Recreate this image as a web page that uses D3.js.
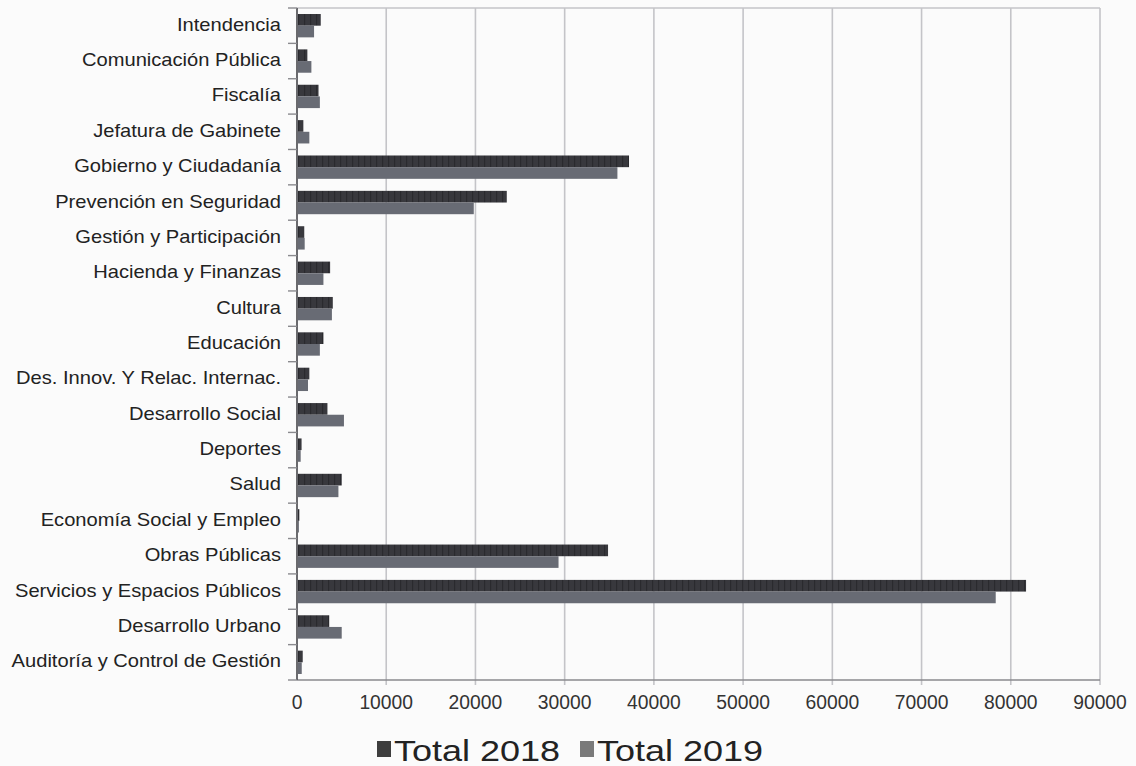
<!DOCTYPE html>
<html>
<head>
<meta charset="utf-8">
<script src="https://cdn.jsdelivr.net/npm/d3@7"></script>
<style>
  html, body { margin: 0; padding: 0; background: #fbfbfb; }
  svg { display: block; }
  text { font-family: "Liberation Sans", Arial, sans-serif; fill: #1c1c1c; }
</style>
</head>
<body>
<svg id="chart" width="1136" height="766"></svg>
<script>
const categories = [
  "Intendencia",
  "Comunicación Pública",
  "Fiscalía",
  "Jefatura de Gabinete",
  "Gobierno y Ciudadanía",
  "Prevención en Seguridad",
  "Gestión y Participación",
  "Hacienda y Finanzas",
  "Cultura",
  "Educación",
  "Des. Innov. Y Relac. Internac.",
  "Desarrollo Social",
  "Deportes",
  "Salud",
  "Economía Social y Empleo",
  "Obras Públicas",
  "Servicios y Espacios Públicos",
  "Desarrollo Urbano",
  "Auditoría y Control de Gestión"
];
const total2018 = [2550, 1050, 2300, 600, 37100, 23400, 700, 3600, 3900, 2850, 1270, 3300, 400, 4900, 150, 34750, 81600, 3500, 530];
const total2019 = [1800, 1500, 2450, 1270, 35800, 19700, 750, 2850, 3800, 2450, 1120, 5150, 300, 4530, 100, 29200, 78200, 4900, 420];
const seriesNames = ["Total 2018", "Total 2019"];
const xTicks = [0, 10000, 20000, 30000, 40000, 50000, 60000, 70000, 80000, 90000];

const svg = d3.select("#chart");
const pLeft = 297, pRight = 1100, pTop = 8, pBottom = 680;

const x = d3.scaleLinear().domain([0, 90000]).range([pLeft, pRight]);
const y = d3.scaleBand().domain(categories).range([pTop, pBottom]).paddingInner(0.34).paddingOuter(0.17);
const sub = d3.scaleBand().domain(seriesNames).range([0, y.bandwidth()]);
const colors = { "Total 2018": "#38383d", "Total 2019": "#686b74" };
const legendColors = { "Total 2018": "#3e3e3e", "Total 2019": "#7a7a7a" };

// stripe pattern for scanned look of 2018 bars
const defs = svg.append("defs");
const pat = defs.append("pattern").attr("id", "stripe18").attr("patternUnits", "userSpaceOnUse")
  .attr("width", 6).attr("height", 10);
pat.append("rect").attr("width", 6).attr("height", 10).attr("fill", colors["Total 2018"]);
pat.append("rect").attr("x", 4).attr("width", 1.2).attr("height", 10).attr("fill", "#2a2a2e");

// gridlines
svg.append("g").selectAll("line").data(xTicks.slice(1)).join("line")
  .attr("x1", d => x(d)).attr("x2", d => x(d))
  .attr("y1", pTop).attr("y2", pBottom + 5)
  .attr("stroke", "#c4c4c8").attr("stroke-width", 1.6);
// top border
svg.append("line").attr("x1", pLeft).attr("x2", pRight).attr("y1", pTop).attr("y2", pTop)
  .attr("stroke", "#c4c4c8").attr("stroke-width", 1.6);

// bars
const data = categories.map((c, i) => ({ cat: c, vals: [
  { s: "Total 2018", v: total2018[i] }, { s: "Total 2019", v: total2019[i] } ] }));
const groups = svg.append("g").selectAll("g").data(data).join("g")
  .attr("transform", d => `translate(0,${y(d.cat)})`);
groups.selectAll("rect").data(d => d.vals).join("rect")
  .attr("x", x(0) + 1)
  .attr("y", d => sub(d.s))
  .attr("width", d => Math.max(0.8, x(d.v) - x(0)))
  .attr("height", sub.bandwidth())
  .attr("fill", d => d.s === "Total 2018" ? "url(#stripe18)" : colors[d.s]);

// bottom axis line
svg.append("line").attr("x1", pLeft).attr("x2", pRight).attr("y1", pBottom).attr("y2", pBottom)
  .attr("stroke", "#8a8a8e").attr("stroke-width", 1.6);

// x tick labels
svg.append("g").selectAll("text").data(xTicks).join("text")
  .attr("transform", d => `translate(${x(d)},${pBottom + 29}) scale(0.92,1)`)
  .attr("text-anchor", "middle")
  .style("font-size", "21px").style("fill", "#333")
  .text(d => d);

// left axis
svg.append("line").attr("x1", pLeft).attr("x2", pLeft).attr("y1", pTop).attr("y2", pBottom)
  .attr("stroke", "#5a5a5e").attr("stroke-width", 1.8);
const boundaries = d3.range(categories.length + 1).map(i => pTop + i * (pBottom - pTop) / categories.length);
svg.append("g").selectAll("line").data(boundaries).join("line")
  .attr("x1", pLeft - 9).attr("x2", pLeft).attr("y1", d => d).attr("y2", d => d)
  .attr("stroke", "#8a8a8e").attr("stroke-width", 1.4);

// category labels
svg.append("g").selectAll("text").data(categories).join("text")
  .attr("transform", d => `translate(281,${y(d) + y.bandwidth() / 2 + 5}) scale(1.15,1)`)
  .attr("text-anchor", "end")
  .style("font-size", "17.5px").style("fill", "#222")
  .text(d => d);

// legend
const lg = svg.append("g").attr("transform", "translate(0,761)");
const lgX = [377, 580];
seriesNames.forEach((s, i) => {
  lg.append("rect").attr("x", lgX[i]).attr("y", -20).attr("width", 14).attr("height", 16)
    .attr("fill", legendColors[s]);
  lg.append("text").attr("transform", `translate(${lgX[i] + 17},0) scale(1.2,1)`)
    .style("font-size", "30px").style("fill", "#222").text(s);
});
</script>
</body>
</html>
